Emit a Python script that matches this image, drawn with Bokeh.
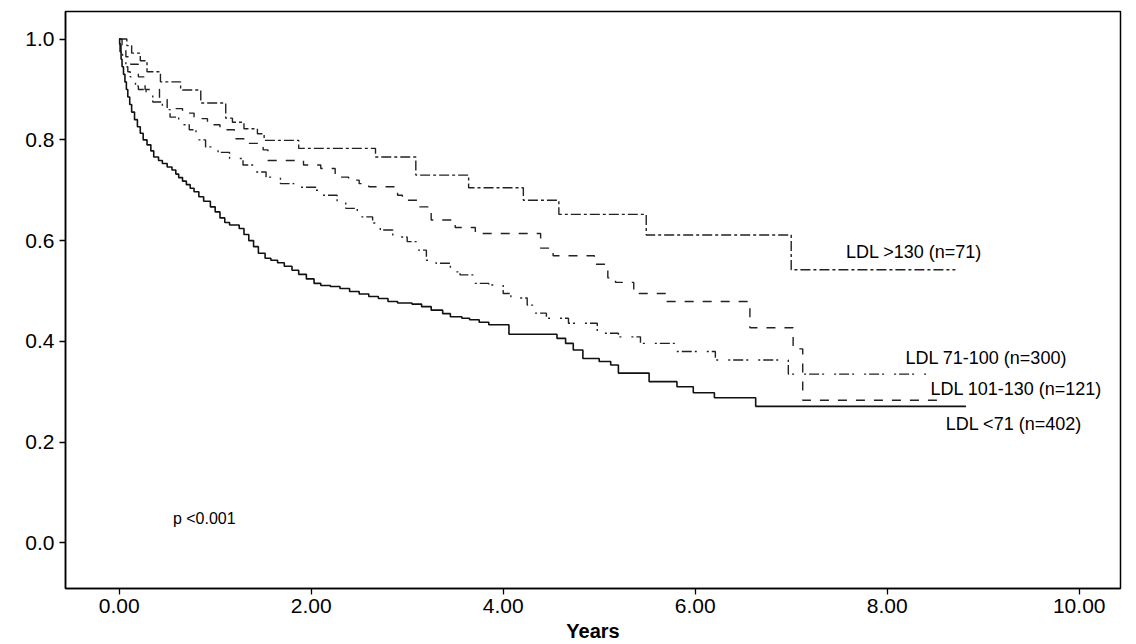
from bokeh.plotting import figure
from bokeh.models import Range1d, FixedTicker, Label
from bokeh.embed import file_html
from bokeh.resources import INLINE

# ---- data ----
gt130_t = [0, 0.08, 0.13, 0.22, 0.29, 0.43, 0.64, 0.85, 1.11, 1.18, 1.30, 1.44, 1.51, 1.87,
           2.67, 3.09, 3.64, 4.21, 4.58, 5.49, 7.00, 8.71]
gt130_s = [1.0, 0.987, 0.972, 0.957, 0.935, 0.915, 0.899, 0.873, 0.843, 0.835, 0.822, 0.812,
           0.799, 0.783, 0.766, 0.730, 0.705, 0.680, 0.652, 0.611, 0.542, 0.542]

l101_t = [0, 0.03, 0.07, 0.12, 0.2, 0.27, 0.42, 0.5, 0.66, 0.78, 0.92, 1.05, 1.2, 1.35, 1.5,
          1.55, 1.92, 2.1, 2.25, 2.39, 2.5, 2.6, 2.9, 2.95, 3.12, 3.25, 3.5, 3.71, 4.39, 4.52,
          4.95, 5.09, 5.17, 5.36, 5.69, 6.57, 7.02, 7.12, 8.52]
l101_s = [1.0, 0.98, 0.965, 0.95, 0.925, 0.90, 0.88, 0.862, 0.853, 0.842, 0.830, 0.820, 0.802,
          0.793, 0.780, 0.759, 0.750, 0.743, 0.726, 0.720, 0.713, 0.707, 0.690, 0.680, 0.667,
          0.641, 0.626, 0.614, 0.585, 0.570, 0.553, 0.526, 0.517, 0.495, 0.479, 0.427, 0.385,
          0.283, 0.283]

l71_t = [0, 0.01, 0.02, 0.035, 0.05, 0.07, 0.09, 0.115, 0.14, 0.17, 0.2, 0.28, 0.35, 0.45,
         0.53, 0.62, 0.73, 0.8, 0.9, 1.03, 1.15, 1.29, 1.42, 1.53, 1.68, 1.82, 2.05, 2.12, 2.27,
         2.36, 2.48, 2.64, 2.72, 2.85, 3.0, 3.1, 3.2, 3.3, 3.45, 3.55, 3.7, 3.85, 4.0, 4.08,
         4.25, 4.33, 4.45, 4.68, 4.98, 5.2, 5.43, 5.8, 6.21, 6.97, 8.42]
l71_s = [1.0, 0.988, 0.975, 0.965, 0.955, 0.945, 0.935, 0.925, 0.915, 0.907, 0.90, 0.89,
         0.875, 0.86, 0.845, 0.83, 0.82, 0.80, 0.786, 0.775, 0.763, 0.75, 0.736, 0.726, 0.713,
         0.706, 0.70, 0.69, 0.677, 0.664, 0.647, 0.635, 0.621, 0.607, 0.598, 0.581, 0.561,
         0.555, 0.538, 0.532, 0.515, 0.512, 0.495, 0.486, 0.472, 0.456, 0.446, 0.436, 0.416,
         0.409, 0.396, 0.380, 0.363, 0.335, 0.335]

lt71_t = [0, 0.005, 0.01, 0.02, 0.03, 0.045, 0.06, 0.075, 0.09, 0.11, 0.13, 0.16, 0.19, 0.22,
          0.25, 0.29, 0.33, 0.36, 0.41, 0.45, 0.5, 0.55, 0.59, 0.62, 0.66, 0.70, 0.74, 0.78,
          0.83, 0.88, 0.95, 1.0, 1.05, 1.1, 1.15, 1.25, 1.3, 1.35, 1.4, 1.45, 1.52, 1.58, 1.65,
          1.72, 1.8, 1.87, 1.95, 2.03, 2.1, 2.2, 2.3, 2.4, 2.5, 2.6, 2.7, 2.8, 2.9, 3.05, 3.15,
          3.25, 3.37, 3.45, 3.57, 3.65, 3.75, 3.85, 4.06, 4.56, 4.65, 4.73, 4.83, 5.0, 5.12,
          5.2, 5.52, 5.81, 5.98, 6.2, 6.63, 8.82]
lt71_s = [1.0, 0.99, 0.975, 0.96, 0.945, 0.93, 0.915, 0.90, 0.885, 0.87, 0.855, 0.84, 0.826,
          0.813, 0.80, 0.79, 0.778, 0.766, 0.759, 0.753, 0.746, 0.74, 0.732, 0.725, 0.718,
          0.711, 0.704, 0.697, 0.687, 0.678, 0.667, 0.657, 0.645, 0.636, 0.631, 0.624, 0.612,
          0.600, 0.588, 0.575, 0.565, 0.561, 0.556, 0.549, 0.541, 0.533, 0.524, 0.515, 0.511,
          0.509, 0.505, 0.499, 0.494, 0.489, 0.485, 0.479, 0.476, 0.474, 0.469, 0.462, 0.455,
          0.449, 0.446, 0.443, 0.438, 0.433, 0.414, 0.406, 0.396, 0.383, 0.366, 0.360, 0.353,
          0.337, 0.320, 0.310, 0.298, 0.288, 0.271, 0.271]

group_labels = ["LDL >130 (n=71)", "LDL 71-100 (n=300)", "LDL 101-130 (n=121)", "LDL <71 (n=402)"]
p_text = "p <0.001"

x_ticks = [0, 2, 4, 6, 8, 10]
x_tick_labels = ["0.00", "2.00", "4.00", "6.00", "8.00", "10.00"]
y_ticks = [0.0, 0.2, 0.4, 0.6, 0.8, 1.0]
y_tick_labels = ["0.0", "0.2", "0.4", "0.6", "0.8", "1.0"]
x_title = "Years"

FONT = "Liberation Sans"

p = figure(width=1136, height=644,
           x_range=Range1d(-0.559, 10.43), y_range=Range1d(-0.0905, 1.0547),
           output_backend="svg", toolbar_location=None,
           min_border_left=65, min_border_right=16, min_border_top=11, min_border_bottom=55)
p.background_fill_color = "white"
p.border_fill_color = "white"
p.grid.visible = False
p.outline_line_color = "black"
p.outline_line_width = 1.5

p.xaxis.ticker = FixedTicker(ticks=x_ticks)
p.xaxis.major_label_overrides = {t: l for t, l in zip(x_ticks, x_tick_labels)}
p.yaxis.ticker = FixedTicker(ticks=y_ticks)
p.yaxis.major_label_overrides = {t: l for t, l in zip(y_ticks, y_tick_labels)}
for ax in (p.xaxis, p.yaxis):
    ax.minor_tick_line_color = None
    ax.major_tick_in = 0
    ax.major_tick_out = 6
    ax.major_tick_line_color = "black"
    ax.major_tick_line_width = 1.3
    ax.axis_line_color = "black"
    ax.axis_line_width = 1.5
    ax.major_label_text_font = FONT
    ax.major_label_text_font_size = "21px"
    ax.major_label_text_color = "black"
p.xaxis.major_label_standoff = 4
p.yaxis.major_label_standoff = 5
p.xaxis.axis_label = x_title
p.xaxis.axis_label_text_font = FONT
p.xaxis.axis_label_text_font_style = "bold"
p.xaxis.axis_label_text_font_size = "20px"
p.xaxis.axis_label_text_color = "black"
p.xaxis.axis_label_standoff = 4

p.step(gt130_t, gt130_s, mode="after", line_color="#222222", line_width=1.4, line_dash="10 3 3 3")
p.step(l101_t, l101_s, mode="after", line_color="#222222", line_width=1.4, line_dash="9 9")
p.step(l71_t, l71_s, mode="after", line_color="#222222", line_width=1.4, line_dash="2 3 10 3 2 10")
p.step(lt71_t, lt71_s, mode="after", line_color="#111111", line_width=1.6)

label_pos = [(7.57, 0.577), (8.19, 0.367), (8.45, 0.306), (8.61, 0.235)]
for (lx, ly), txt in zip(label_pos, group_labels):
    p.add_layout(Label(x=lx, y=ly, text=txt, text_font=FONT, text_font_size="18px",
                       text_baseline="middle", text_align="left", text_color="black"))
p.add_layout(Label(x=0.56, y=0.049, text=p_text, text_font=FONT, text_font_size="16px",
                   text_baseline="middle", text_align="left", text_color="black"))

open("out.html", "w").write(file_html(p, INLINE))
